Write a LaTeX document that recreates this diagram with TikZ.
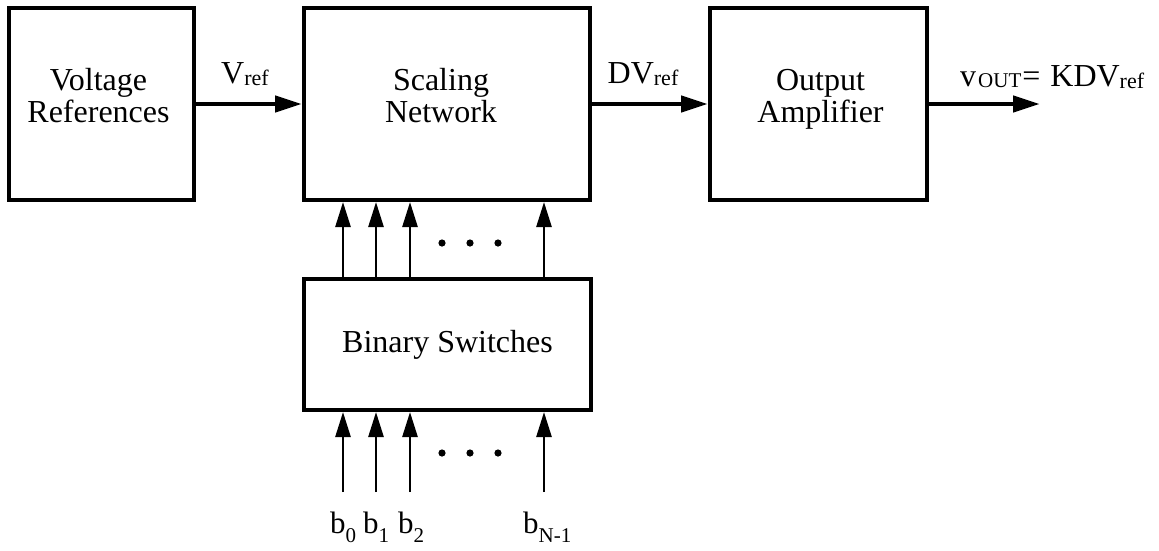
\documentclass[tikz,border=0pt]{standalone}
\usepackage{fontspec}
\setmainfont{Liberation Serif}
\usetikzlibrary{arrows.meta,calc}

% subscript in a smaller size, dropped below the baseline
\newcommand{\dropsub}[3][2pt]{\raisebox{-#1}{\fontsize{#2}{#2}\selectfont #3}}

\tikzset{
  blockbox/.style={draw, line width=4pt, inner sep=0pt},
  blocktext/.style={inner sep=0pt, align=center, anchor=base,
    font=\fontsize{32}{32}\selectfont},
  mainflow/.style={line width=4.5pt, -{Triangle[length=27pt,width=16pt]}},
  bitflow/.style={line width=2.6pt, -{Triangle[length=25pt,width=15pt]}},
  sig/.style={inner sep=0pt, font=\fontsize{32}{32}\selectfont},
  bitlabel/.style={inner sep=0pt, anchor=base west, font=\fontsize{31}{32}\selectfont},
  ellipsisdot/.style={fill=black},
}

\begin{document}
\begin{tikzpicture}[x=1pt,y=-1pt]
  \useasboundingbox (0,0) rectangle (1159,550);

  % main blocks
  \node[blockbox, minimum width=185pt, minimum height=192pt] (vref) at (101.5,104) {};
  \node[blockbox, minimum width=286pt, minimum height=192pt] (scale) at (447,104) {};
  \node[blockbox, minimum width=217pt, minimum height=192pt] (amp) at (818.5,104) {};
  \node[blockbox, minimum width=287pt, minimum height=131pt] (switch) at (447.5,344.5) {};

  % block names (anchored at the baseline of the last line)
  \node[blocktext] (vrefname) at ($(vref.center)+(-3,18)$) {Voltage\\References};
  \node[blocktext] (scalename) at ($(scale.center)+(-6,18)$) {Scaling\\Network};
  \node[blocktext] (ampname) at ($(amp.center)+(2,18)$) {Output\\Amplifier};
  \node[blocktext] (switchname) at ($(switch.center)+(0,7.5)$) {Binary Switches};

  % signal path
  \coordinate (out) at (1040,104);
  \draw[mainflow] (vref.east) -- (scale.west);
  \draw[mainflow] (scale.east) -- (amp.west);
  \draw[mainflow] (amp.east) -- (out);

  \node[sig, anchor=base] (lref) at (245,83) {V\dropsub{22}{ref}};
  \node[sig, anchor=base] (ldv) at (643,83) {DV\dropsub{22}{ref}};
  \node[sig, anchor=base west] (lout) at (960,86)
    {v\kern2pt\dropsub[1pt]{21}{OUT}\kern1pt=\kern10pt KDV\dropsub{22}{ref}};

  % bit lines: inputs at the bottom, switch outputs into the network
  \foreach \i/\x in {0/343,1/376,2/410,3/544}{
    \coordinate (in\i) at (\x,492);
    \draw[bitflow] (in\i) -- (switch.south -| in\i);
    \draw[bitflow] (switch.north -| in\i) -- (scale.south -| in\i);
  }

  % ellipses between the bit lines
  \foreach \y in {243,453}{
    \foreach \x in {442,470,498}{
      \fill[ellipsisdot] (\x,\y) circle (3.6pt);
    }
  }

  % bit names
  \node[bitlabel] (bl0) at (330,533) {b\dropsub[9pt]{21}{0}};
  \node[bitlabel] (bl1) at (363,533) {b\dropsub[9pt]{21}{1}};
  \node[bitlabel] (bl2) at (398,533) {b\dropsub[9pt]{21}{2}};
  \node[bitlabel] (bl3) at (523,533) {b\dropsub[9pt]{21}{N-1}};
\end{tikzpicture}
\end{document}
